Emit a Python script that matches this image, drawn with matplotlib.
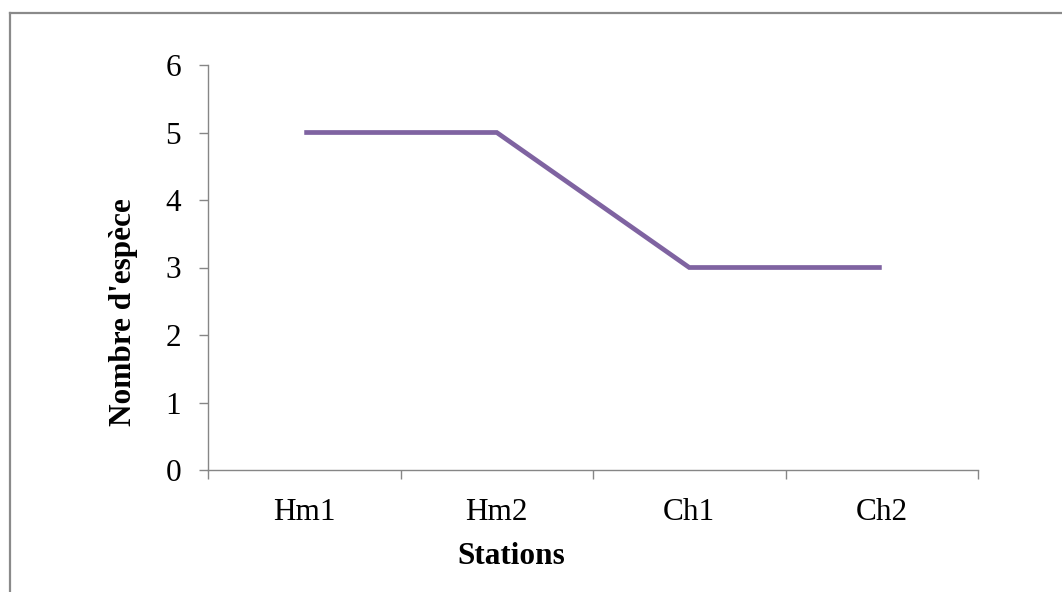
import matplotlib
matplotlib.use("Agg")
import matplotlib.pyplot as plt
from matplotlib.lines import Line2D

stations = ["Hm1", "Hm2", "Ch1", "Ch2"]
nombre_especes = [5, 5, 3, 3]
y_ticks = [0, 1, 2, 3, 4, 5, 6]

plt.rcParams["font.family"] = ["Liberation Serif", "DejaVu Serif"]

W, H = 1062, 592
fig = plt.figure(figsize=(W / 100, H / 100), dpi=100)
fig.patch.set_facecolor("white")

# Chart-area frame (only top and left edges fall inside the canvas)
frame_col = "#8a8a8a"
fig.add_artist(Line2D([9.5 / W, 9.5 / W], [0, 1 - 13 / H],
                      transform=fig.transFigure, color=frame_col, lw=1.6))
fig.add_artist(Line2D([9.5 / W, 1], [1 - 13 / H, 1 - 13 / H],
                      transform=fig.transFigure, color=frame_col, lw=1.6))

ax = fig.add_axes([208 / W, (H - 470) / H, 770 / W, 405 / H])

x = [i + 0.5 for i in range(len(stations))]
ax.plot(x, nombre_especes, color="#7F63A1", lw=3.4, solid_joinstyle="miter",
        solid_capstyle="butt")

ax.set_xlim(0, len(stations))
ax.set_ylim(0, 6)

spine_col = "#868686"
for side in ["top", "right"]:
    ax.spines[side].set_visible(False)
for side in ["left", "bottom"]:
    ax.spines[side].set_color(spine_col)
    ax.spines[side].set_linewidth(1.0)

ax.set_yticks(y_ticks)
ax.set_yticklabels([str(v) for v in y_ticks])
ax.tick_params(axis="y", direction="out", length=6.5, width=1.0,
               color=spine_col, pad=13, labelsize=22.5)

# category boundaries carry the ticks, labels sit centered between them
ax.set_xticks(range(len(stations) + 1))
ax.set_xticklabels([""] * (len(stations) + 1))
ax.set_xticks(x, minor=True)
ax.set_xticklabels(stations, minor=True)
ax.tick_params(axis="x", which="major", direction="out", length=6.5,
               width=1.0, color=spine_col)
ax.tick_params(axis="x", which="minor", length=0, pad=20, labelsize=22.5)

# axis titles placed in the chart area
fig.text(124 / W, 1 - 312 / H, "Nombre d'espèce", fontsize=22.5,
         fontweight="bold", rotation=90, ha="center", va="center")
fig.text(511 / W, 1 - 557 / H, "Stations", fontsize=22.5,
         fontweight="bold", ha="center", va="center")

fig.savefig("out.png", dpi=100, facecolor="white")
